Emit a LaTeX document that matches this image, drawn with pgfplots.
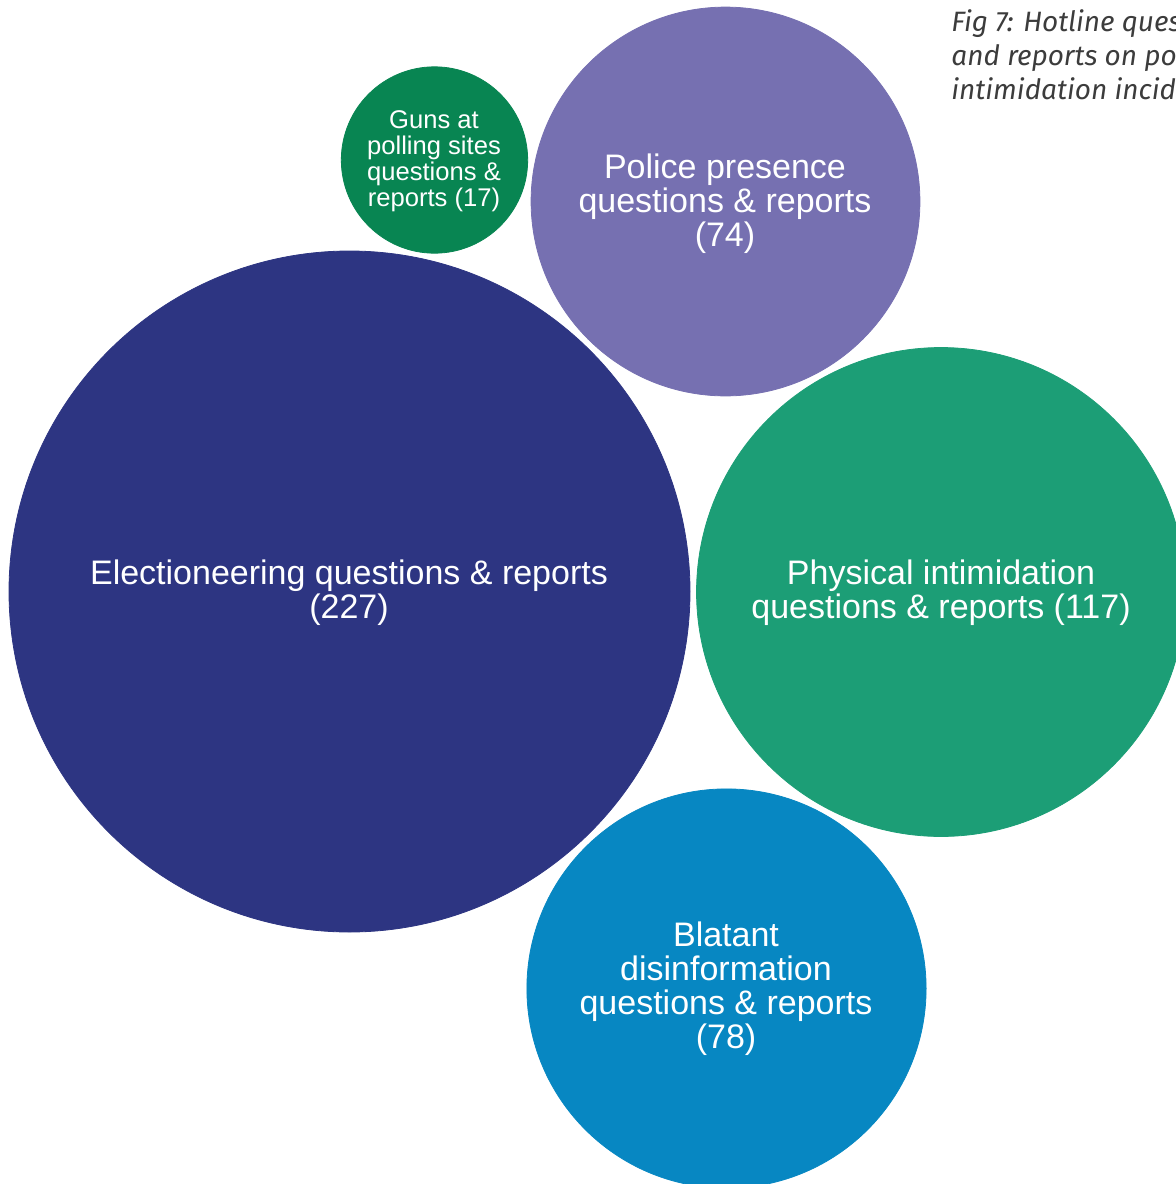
\documentclass[border=0pt]{standalone}
\usepackage{pgfplots}
\pgfplotsset{compat=1.18}
\usepackage{fontspec}
\setmainfont{Liberation Sans}
\newfontfamily\titlefont{Fira Sans}

\definecolor{cElec}{HTML}{2D3582}
\definecolor{cPhys}{HTML}{1C9E76}
\definecolor{cPolice}{HTML}{7670B1}
\definecolor{cBlat}{HTML}{0787C2}
\definecolor{cGuns}{HTML}{088552}
\definecolor{cTitle}{HTML}{3C3C3C}

% one axis unit = one pixel of the reference = 0.5pt
\pgfplotsset{
  bubble/.style={
    scatter, only marks, mark=*,
    point meta=\thisrow{v},
    scatter/use mapped color={draw=#1, fill=#1},
    visualization depends on={11.3*sqrt(\thisrow{v}) \as \rad},
    scatter/@pre marker code/.append style={/tikz/mark size=\rad},
  },
}
\tikzset{
  lab/.style={text=white, align=center, inner sep=0pt, font=\fontsize{17}{17}\selectfont},
}

\begin{document}
\begin{tikzpicture}
\begin{axis}[
  width=588pt, height=592pt, scale only axis,
  xmin=0, xmax=1176, ymin=0, ymax=1184, y dir=reverse,
  hide axis,
]
\addplot[bubble=cElec] table {
x y v
349.5 591.5 227
};
\addplot[bubble=cPhys] table {
x y v
941 592 117
};
\addplot[bubble=cPolice] table {
x y v
725.5 201.5 74
};
\addplot[bubble=cBlat] table {
x y v
726.5 988.5 78
};
\addplot[bubble=cGuns] table {
x y v
434.5 160 17
};

\coordinate (pElec) at (axis cs:349,593);
\coordinate (pPhys) at (axis cs:941,593);
\coordinate (pPolice) at (axis cs:725,204);
\coordinate (pBlat) at (axis cs:726,989);
\coordinate (pGuns) at (axis cs:434,161);
\coordinate (pTitle) at (axis cs:951,9);
\coordinate (bl) at (rel axis cs:0,0);
\coordinate (tr) at (rel axis cs:1,1);
\end{axis}

\node[lab] at (pElec) {Electioneering questions \& reports\\(227)};
\node[lab] at (pPhys) {Physical intimidation\\questions \& reports (117)};
\node[lab] at (pPolice) {Police presence\\questions \& reports\\(74)};
\node[lab] at (pBlat) {Blatant\\disinformation\\questions \& reports\\(78)};
\node[lab, font=\fontsize{12.8}{13}\selectfont] at (pGuns) {Guns at\\polling sites\\questions \&\\reports (17)};
\node[anchor=north west, inner sep=0pt, align=left, text=cTitle,
  font=\titlefont\itshape\fontsize{14}{17}\selectfont] at (pTitle)
  {Fig 7: Hotline questions\\and reports on potential\\intimidation incidents};

\pgfresetboundingbox
\path[use as bounding box] (bl) rectangle (tr);
\end{tikzpicture}
\end{document}
